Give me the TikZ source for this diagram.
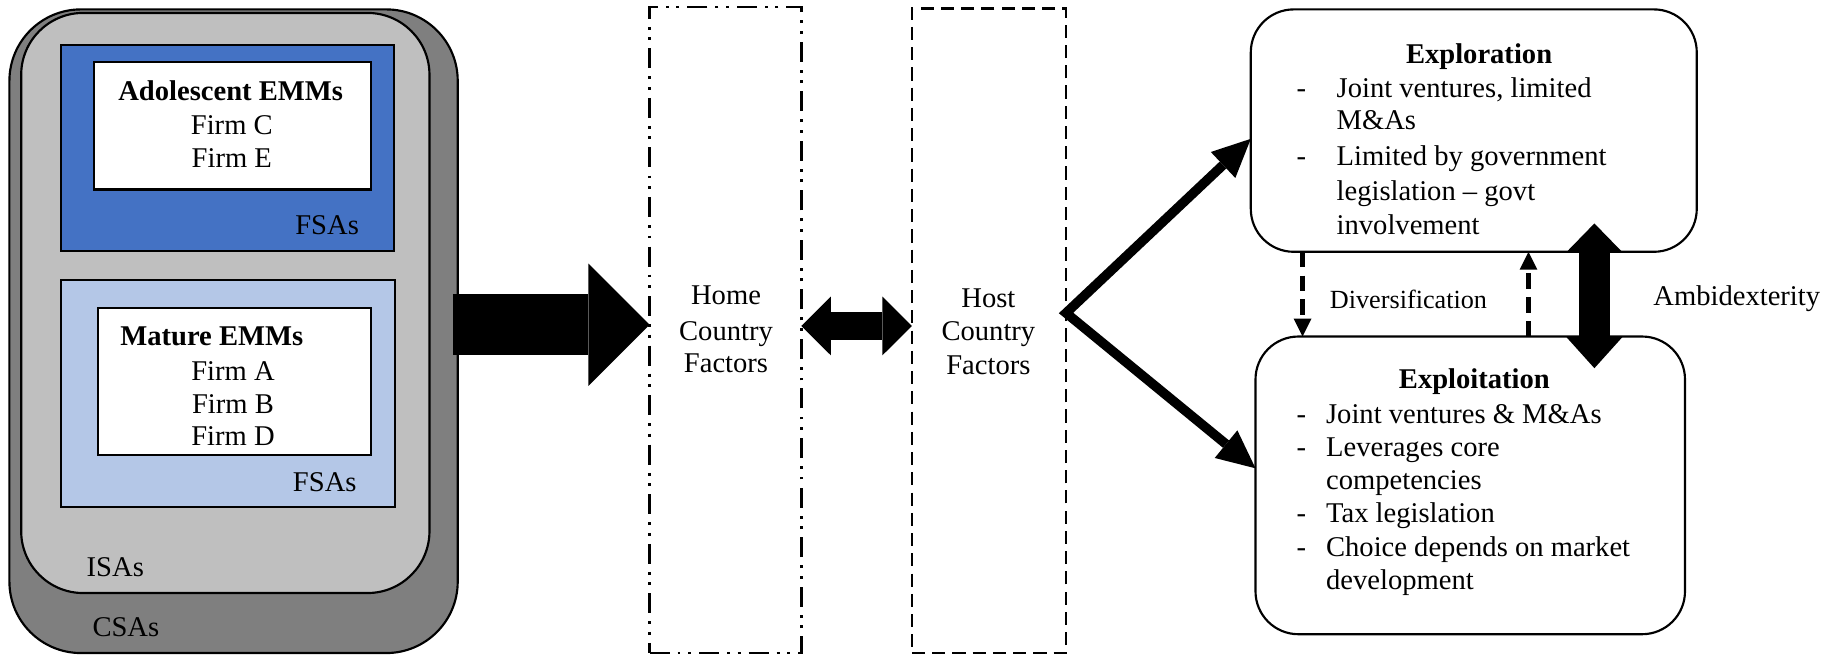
\documentclass[tikz,border=0pt]{standalone}
\usepackage{fontspec}
\setmainfont{Liberation Serif}
\usetikzlibrary{arrows.meta,fit}
\definecolor{csagray}{HTML}{7F7F7F}
\definecolor{isagray}{HTML}{BFBFBF}
\definecolor{fsablue}{HTML}{4472C4}
\definecolor{fsalight}{HTML}{B4C7E7}
\begin{document}
\begin{tikzpicture}[x=0.494pt,y=-0.494pt,
  txt/.style={font=\fontsize{12}{14}\selectfont, inner sep=0pt, outer sep=0pt, anchor=base},
  txtw/.style={txt, anchor=base west},
  bld/.style={txt, font=\fontsize{12}{14}\selectfont\bfseries},
  region/.style={draw=black, line width=0.9pt, inner sep=0pt, outer sep=0pt, fit={#1}},
  roundbox/.style={region={#1}, rounded corners=18pt, fill=white},
  blockarrow/.style={line width=#1, line cap=butt},
  divarrow/.style={line width=2.1pt, dash pattern=on 6.5pt off 3.5pt,
     -{Triangle[length=7.5pt,width=7.5pt,line width=0pt]}}
]
\useasboundingbox (0,0) rectangle (1568,558);

% ---------------- left nested boxes ----------------
\node[region={(8,8) (389,555)}, fill=csagray, rounded corners=30pt] (csa) {};
\node[region={(18,11) (365,504)}, fill=isagray, rounded corners=26pt] (isa) {};
\node[region={(52,38) (335,213)}, fill=fsablue] (fsa1) {};
\node[region={(80,53) (315,161)}, fill=white] (adol) {};
\node[region={(52,238) (336,431)}, fill=fsalight] (fsa2) {};
\node[region={(83,262) (315,387)}, fill=white] (mat) {};

\node[bld] (adolT) at (196,85) {Adolescent EMMs};
\node[txt] (firmC) at (197,114) {Firm C};
\node[txt] (firmE) at (197,142) {Firm E};
\node[txt] (fsaT1) at (278,199) {FSAs};
\node[bld] (matT) at (180,294) {Mature EMMs};
\node[txt] (firmA) at (198,323) {Firm A};
\node[txt] (firmB) at (198,351) {Firm B};
\node[txt] (firmD) at (198,379) {Firm D};
\node[txt] (fsaT2) at (276,418) {FSAs};
\node[txt] (isaT) at (98,490) {ISAs};
\node[txt] (csaT) at (107,541) {CSAs};

% ---------------- factor boxes ----------------
\node[region={(552,6) (681,555)}, line width=1.1pt,
  dash pattern=on 8.4pt off 3.4pt on 1.2pt off 3.2pt on 1.2pt off 3.4pt] (home) {};
\node[region={(775,7) (906,555)}, line width=1.1pt,
  dash pattern=on 5.5pt off 3pt] (host) {};

\node[txt] (homeA) at (617,259) {Home};
\node[txt] (homeB) at (617,289) {Country};
\node[txt] (homeC) at (617,317) {Factors};
\node[txt] (hostA) at (840,261) {Host};
\node[txt] (hostB) at (840,289) {Country};
\node[txt] (hostC) at (840,318) {Factors};

% ---------------- right boxes ----------------
\node[roundbox={(1063,8) (1442,214)}] (explor) {};
\node[roundbox={(1067,286) (1432,539)}] (exploit) {};

\node[bld] (explorT) at (1257,54) {Exploration};
\node[txt] (ed1) at (1106,83) {-};
\node[txtw] (e1a) at (1136,83) {Joint ventures, limited};
\node[txtw] (e1b) at (1136,110) {M\&As};
\node[txt] (ed2) at (1106,141) {-};
\node[txtw] (e2a) at (1136,141) {Limited by government};
\node[txtw] (e2b) at (1136,170) {legislation – govt};
\node[txtw] (e2c) at (1136,199) {involvement};

\node[bld] (exploitT) at (1253,330) {Exploitation};
\node[txt] (xd1) at (1106,360) {-};
\node[txtw] (x1) at (1127,360) {Joint ventures \& M\&As};
\node[txt] (xd2) at (1106,388) {-};
\node[txtw] (x2a) at (1127,388) {Leverages core};
\node[txtw] (x2b) at (1127,416) {competencies};
\node[txt] (xd3) at (1106,444) {-};
\node[txtw] (x3) at (1127,444) {Tax legislation};
\node[txt] (xd4) at (1106,473) {-};
\node[txtw] (x4a) at (1127,473) {Choice depends on market};
\node[txtw] (x4b) at (1127,501) {development};

\node[txt, font=\fontsize{11}{13}\selectfont] (divT) at (1197,262) {Diversification};
\node[txt] (ambT) at (1476,260) {Ambidexterity};

% ---------------- helper coordinates ----------------
\coordinate (bigY) at (0,276);
\coordinate (dblY) at (0,277);
\coordinate (upY) at (0,118);
\coordinate (vY) at (0,266);
\coordinate (lowY) at (0,398);
\coordinate (d1X) at (1107,0);
\coordinate (d2X) at (1299,0);
\coordinate (ambX) at (1355,0);

% ---------------- connectors ----------------
\draw[blockarrow=25.7pt, shorten <=-2pt,
  -{Triangle[length=25.7pt,width=51.4pt,line width=0pt]}]
  (csa.east |- bigY) -- (home.west |- bigY);

\draw[blockarrow=11.5pt,
  {Triangle[length=12.4pt,width=24.7pt,line width=0pt]}-{Triangle[length=12.4pt,width=24.7pt,line width=0pt]}]
  (home.east |- dblY) -- (host.west |- dblY);

\draw[line width=4pt, line join=miter,
  {Triangle[length=16pt,width=15pt,line width=0pt]}-{Triangle[length=16pt,width=15pt,line width=0pt]}]
  (explor.west |- upY) -- (host.east |- vY) -- (exploit.west |- lowY);

\draw[divarrow] (explor.south -| d1X) -- (exploit.north -| d1X);
\draw[divarrow] (exploit.north -| d2X) -- (explor.south -| d2X);

\draw[blockarrow=13pt, shorten <=-11.9pt, shorten >=-13.3pt,
  {Triangle[length=12pt,width=23.4pt,line width=0pt]}-{Triangle[length=13pt,width=23.4pt,line width=0pt]}]
  (explor.south -| ambX) -- (exploit.north -| ambX);
\end{tikzpicture}
\end{document}
